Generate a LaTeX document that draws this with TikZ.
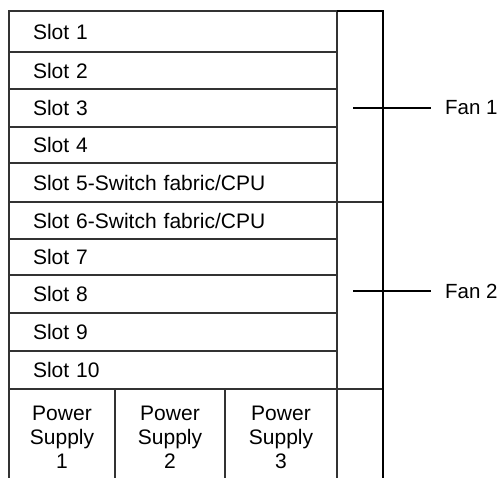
\documentclass[tikz,border=0pt]{standalone}
\usepackage{fontspec}
\setmainfont{Liberation Sans}
\begin{document}
\begin{tikzpicture}[x=1pt,y=-1pt,
  every node/.style={font=\fontsize{21}{24}\selectfont},
  slotbox/.style={draw=black!80,line width=1.2pt,anchor=north west,inner ysep=0pt,
    inner xsep=24pt,text width=280pt,align=left,outer sep=0pt},
  fanbox/.style={draw=black!80,line width=1.2pt,anchor=north west,minimum width=46pt,outer sep=0pt},
  psbox/.style={draw=black!80,line width=1.2pt,anchor=north west,inner sep=0pt,
    minimum height=96pt,align=center,outer sep=0pt},
  fanlabel/.style={anchor=west,inner xsep=14pt,inner ysep=0pt,font=\fontsize{20.5}{24}\selectfont}]
  \useasboundingbox (0,0) rectangle (500,477);

  % Slots
  \foreach \n/\ya/\yb/\txt in {1/11/52/Slot 1, 2/52/89/Slot 2, 3/89/127/Slot 3,
      4/127/163/Slot 4, 5/163/202/Slot 5-Switch fabric\slash CPU,
      6/202/239/Slot 6-Switch fabric\slash CPU, 7/239/275/Slot 7, 8/275/313/Slot 8,
      9/313/351/Slot 9, 10/351/389/Slot 10}
    \node[slotbox,minimum height={(\yb-\ya)*1pt}] (slot\n) at (9,\ya) {\txt};

  % Fans
  \node[fanbox,minimum height=191pt] (fan1) at (337,11) {};
  \node[fanbox,minimum height=187pt] (fan2) at (337,202) {};

  % Power supplies (open at the bottom)
  \node[psbox,minimum width=106pt] (ps1) at (9,389) {Power\\Supply\\1};
  \node[psbox,minimum width=110pt] (ps2) at (ps1.north east) {Power\\Supply\\2};
  \node[psbox,minimum width=112pt] (ps3) at (ps2.north east) {Power\\Supply\\3};
  \node[psbox,minimum width=46pt] (psfree) at (ps3.north east) {};

  % Thick right edge
  \draw[line width=2.2pt,line join=miter] (fan1.north west) -- (fan1.north east)
    -- (psfree.south east);

  % Fan labels
  \node[fanlabel] (fan1lbl) at (431,108) {Fan 1};
  \node[fanlabel] (fan2lbl) at (431,291) {Fan 2};
  \coordinate (f1a) at (353,108);
  \coordinate (f2a) at (353,291);
  \draw[line width=1.1pt] (f1a) -- (fan1lbl.west);
  \draw[line width=1.1pt] (f2a) -- (fan2lbl.west);

\end{tikzpicture}
\end{document}
